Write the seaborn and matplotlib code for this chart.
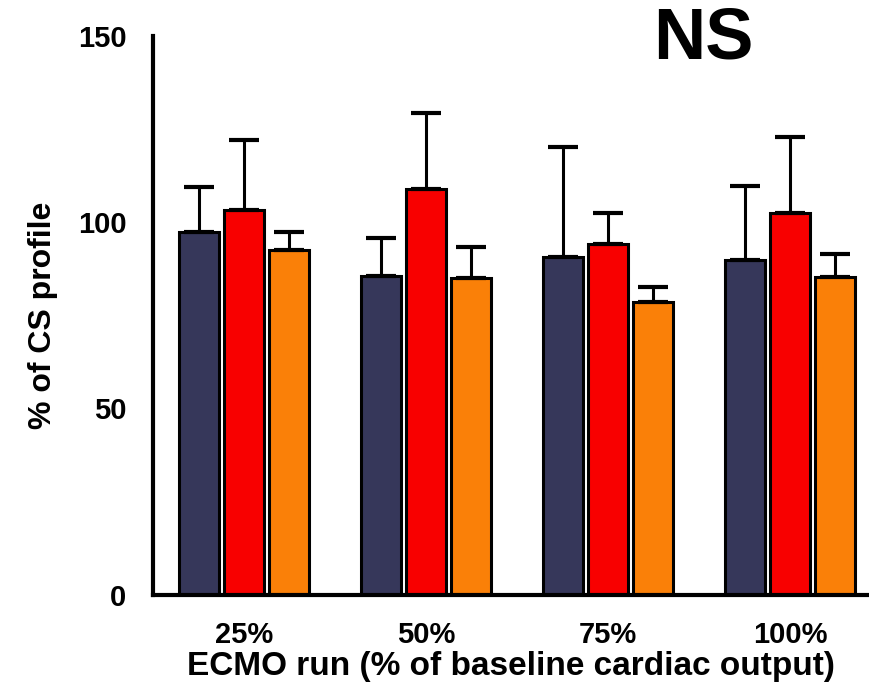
import seaborn as sns
import matplotlib.pyplot as plt
import pandas as pd
import numpy as np

# values
runs = ["25%", "50%", "75%", "100%"]
groups = ["A", "B", "C"]
navy_mean = [97.4, 85.5, 90.7, 89.8]
navy_top = [109.5, 95.6, 120.2, 109.7]
red_mean = [103.2, 108.8, 94.0, 102.5]
red_top = [122.0, 129.3, 102.3, 122.7]
orange_mean = [92.5, 84.9, 78.6, 85.3]
orange_top = [97.4, 93.4, 82.7, 91.3]
colors = ["#36375a", "#f80000", "#fa8008"]

means = [navy_mean, red_mean, orange_mean]
tops = [navy_top, red_top, orange_top]

df = pd.DataFrame({
    "run": runs * 3,
    "group": [g for g in groups for _ in runs],
    "value": navy_mean + red_mean + orange_mean,
})

sns.set_style("white")
plt.rcParams["font.family"] = ["Liberation Sans", "DejaVu Sans"]
plt.rcParams["font.weight"] = "bold"
for k in ["text.color", "axes.labelcolor", "xtick.color", "ytick.color"]:
    plt.rcParams[k] = "black"

fig = plt.figure(figsize=(8.69, 6.86), dpi=100)
ax = fig.add_axes([0.176, 0.133, 0.824, 0.815])

sns.barplot(data=df, x="run", y="value", hue="group", order=runs,
            hue_order=groups, palette=colors, saturation=1, width=0.74, gap=0.1,
            edgecolor="black", linewidth=2.2, legend=False, ax=ax)

# upward-only error bars
n = len(runs)
for i, g in enumerate(groups):
    bars = ax.patches[i * n:(i + 1) * n]
    xs = [b.get_x() + b.get_width() / 2 for b in bars]
    m = np.array(means[i])
    err = np.array(tops[i]) - m
    ax.errorbar(xs, m, yerr=[np.zeros(n), err], fmt="none", ecolor="black",
                elinewidth=2.2, capsize=11, capthick=3, zorder=1)

ax.set_ylim(0, 150)
ax.set_xlim(-0.5, 3.434)
ax.set_yticks([0, 50, 100, 150])
sns.despine(ax=ax)
for s in ["left", "bottom"]:
    ax.spines[s].set_linewidth(3)
    ax.spines[s].set_color("black")
ax.tick_params(axis="y", length=11, width=3, labelsize=21, pad=8)
ax.tick_params(axis="x", length=0, labelsize=21, pad=19)
for lab in ax.get_xticklabels() + ax.get_yticklabels():
    lab.set_fontweight("bold")

ax.set_xlabel("ECMO run (% of baseline cardiac output)", fontsize=24,
              fontweight="bold", labelpad=1)
ax.set_ylabel("% of CS profile", fontsize=23, fontweight="bold", labelpad=14)
fig.text(0.809, 0.942, "NS", fontsize=52, fontweight="bold", ha="center", va="center")

fig.savefig("out.png", dpi=100)
